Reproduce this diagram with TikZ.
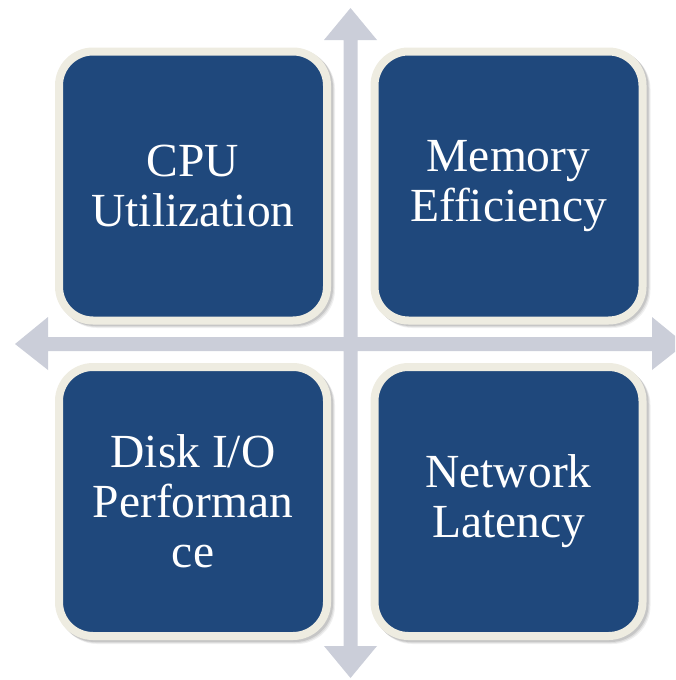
\documentclass[tikz,border=0pt]{standalone}
\usepackage{fontspec}
\setmainfont{Liberation Serif}
\definecolor{tileblue}{HTML}{1F487C}
\definecolor{tilerim}{HTML}{EEECE1}
\definecolor{crossgray}{HTML}{CBCED9}
\tikzset{
  tile/.style={rectangle, draw=tilerim, fill=tileblue, line width=8pt,
    rounded corners=34pt, minimum width=268pt, minimum height=269pt,
    text=white, align=center, font=\fontsize{47.5}{50}\selectfont,
    inner sep=0pt},
  tileshadow/.style={fill=black, rounded corners=38pt},
}
\begin{document}
\begin{tikzpicture}[x=1pt,y=-1pt]
\useasboundingbox (0,0) rectangle (675,680);
\clip (0,0) rectangle (675,680);

% four-way arrow cross behind the tiles
\coordinate (hub) at (350.5,344);
\fill[crossgray]
  (343.5,40) -- (324,40) -- (350.5,8) -- (377,40) -- (357.5,40)
  -- (357.5,337) -- (652,337) -- (652,317) -- (685,344) -- (652,370) -- (652,351)
  -- (357.5,351) -- (357.5,646) -- (377,646) -- (350.5,678) -- (324,646) -- (343.5,646)
  -- (343.5,351) -- (48,351) -- (48,370) -- (15,344) -- (48,317) -- (48,337)
  -- (343.5,337) -- cycle;

% soft shadows under the tiles
\foreach \cx/\cy in {193/185.5, 508.5/185.5, 193/501.5, 508.5/501.5}{
  \foreach \d/\o in {4/0.06, 3/0.08, 2/0.10}{
    \fill[tileshadow, opacity=\o]
      (\cx-138+\d,\cy-138.5+\d) rectangle (\cx+138+\d,\cy+138.5+\d);
  }
}

% tiles
\node[tile] (cpu) at (193,186) {CPU\\Utilization};
\node[tile] (mem) at (508.5,186) {Memory\\Efficiency};
\node[tile] (disk) at (193,501.5) {Disk I/O\\Performan\\ce};
\node[tile] (net) at (508.5,501.5) {Network\\Latency};
\end{tikzpicture}
\end{document}
